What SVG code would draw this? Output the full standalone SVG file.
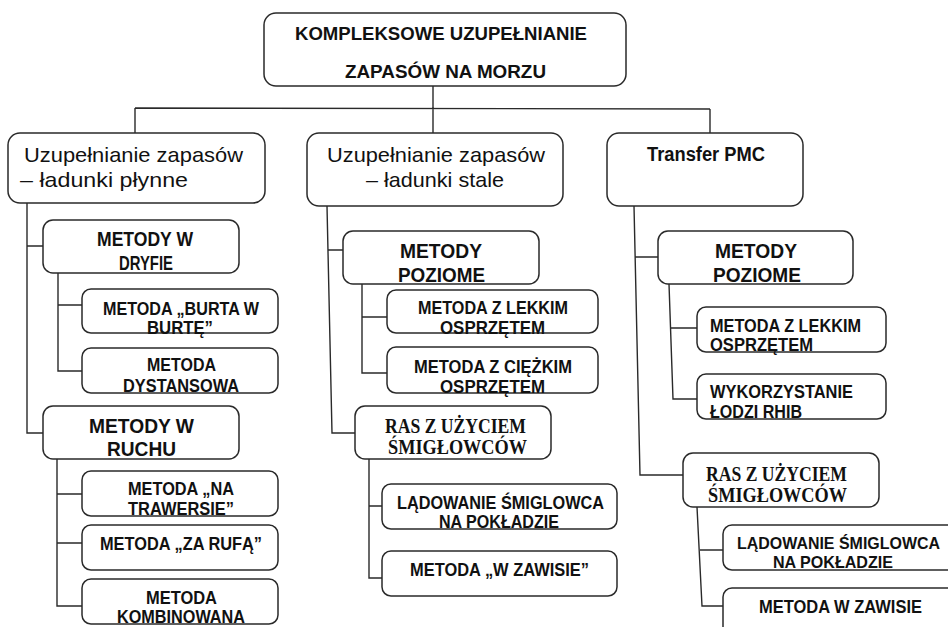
<svg xmlns="http://www.w3.org/2000/svg" width="948" height="627" viewBox="0 0 948 627">
<style>
.box{fill:#fff;stroke:#2a2a2a;stroke-width:1.5}
.ln{fill:none;stroke:#2a2a2a;stroke-width:1.4}
text{fill:#111;font-family:"Liberation Sans",Arial,sans-serif}
.t0{font-size:19px;font-weight:bold}
.h{font-size:21px}
.b2{font-size:19.5px;font-weight:bold}
.b3{font-size:18.5px;font-weight:bold}
.b4{font-size:17px;font-weight:bold}
.s{font-family:"Liberation Serif","Times New Roman",serif;font-size:20px;font-weight:bold}
</style>
<rect width="948" height="627" fill="#fff"/>
<g id="connectors">
<path class="ln" d="M433 86V108M135 108L710 109M135 108V133M433 108V133M710 109V133"/>
<path class="ln" d="M27 203V433H43M27 246H43"/>
<path class="ln" d="M58 273V371H82M58 305H82"/>
<path class="ln" d="M57 459V606H82M57 494H82M57 543H82"/>
<path class="ln" d="M327 206L332 433H355M328 250H343"/>
<path class="ln" d="M362 284V373H387M362 317H387"/>
<path class="ln" d="M369 459V578H382M369 506H382"/>
<path class="ln" d="M634 206L640 475H683M635 257H658"/>
<path class="ln" d="M669 284L673 399H697M671 328H697"/>
<path class="ln" d="M697 507L702 606H723M700 550H723"/>
</g>
<g id="root">
<rect class="box" x="264" y="13" width="362" height="73" rx="12"/>
<text class="t0" x="295" y="40" textLength="292" lengthAdjust="spacingAndGlyphs">KOMPLEKSOWE UZUPEŁNIANIE</text>
<text class="t0" x="345" y="78" textLength="201" lengthAdjust="spacingAndGlyphs">ZAPASÓW NA MORZU</text>
</g>
<g id="col1">
<rect class="box" x="8" y="133" width="257" height="70" rx="12"/>
<text class="h" x="24" y="162" textLength="219" lengthAdjust="spacingAndGlyphs">Uzupełnianie zapasów</text>
<text class="h" x="20" y="187" textLength="168" lengthAdjust="spacingAndGlyphs">– ładunki płynne</text>
</g>
<g id="dryf">
<rect class="box" x="43" y="220" width="196" height="53" rx="10"/>
<text class="b2" x="97" y="246" textLength="96" lengthAdjust="spacingAndGlyphs">METODY W</text>
<text class="b2" x="119" y="270" textLength="54" lengthAdjust="spacingAndGlyphs">DRYFIE</text>
</g>
<g id="burta">
<rect class="box" x="82" y="289" width="196" height="44" rx="9"/>
<text class="b3" x="103" y="315" textLength="156" lengthAdjust="spacingAndGlyphs">METODA „BURTA W</text>
<text class="b3" x="147" y="334" textLength="66" lengthAdjust="spacingAndGlyphs">BURTĘ”</text>
</g>
<g id="dystans">
<rect class="box" x="82" y="348" width="196" height="45" rx="9"/>
<text class="b3" x="147" y="371" textLength="69" lengthAdjust="spacingAndGlyphs">METODA</text>
<text class="b3" x="123" y="392" textLength="116" lengthAdjust="spacingAndGlyphs">DYSTANSOWA</text>
</g>
<g id="ruch">
<rect class="box" x="43" y="406" width="196" height="53" rx="10"/>
<text class="b2" x="89" y="433" textLength="105" lengthAdjust="spacingAndGlyphs">METODY W</text>
<text class="b2" x="107" y="456" textLength="69" lengthAdjust="spacingAndGlyphs">RUCHU</text>
</g>
<g id="trawers">
<rect class="box" x="82" y="471" width="196" height="45" rx="9"/>
<text class="b3" x="128" y="495" textLength="106" lengthAdjust="spacingAndGlyphs">METODA „NA</text>
<text class="b3" x="128" y="515" textLength="106" lengthAdjust="spacingAndGlyphs">TRAWERSIE”</text>
</g>
<g id="rufa">
<rect class="box" x="82" y="525" width="196" height="45" rx="9"/>
<text class="b3" x="100" y="550" textLength="162" lengthAdjust="spacingAndGlyphs">METODA „ZA RUFĄ”</text>
</g>
<g id="kombi">
<rect class="box" x="82" y="579" width="196" height="45" rx="9"/>
<text class="b3" x="146" y="604" textLength="71" lengthAdjust="spacingAndGlyphs">METODA</text>
<text class="b3" x="117" y="623" textLength="128" lengthAdjust="spacingAndGlyphs">KOMBINOWANA</text>
</g>
<g id="col2">
<rect class="box" x="307" y="133" width="256" height="73" rx="12"/>
<text class="h" x="327" y="162" textLength="218" lengthAdjust="spacingAndGlyphs">Uzupełnianie zapasów</text>
<text class="h" x="366" y="187" textLength="138" lengthAdjust="spacingAndGlyphs">– ładunki stale</text>
</g>
<g id="poz2">
<rect class="box" x="343" y="231" width="196" height="53" rx="10"/>
<text class="b2" x="400" y="258" textLength="82" lengthAdjust="spacingAndGlyphs">METODY</text>
<text class="b2" x="398" y="282" textLength="87" lengthAdjust="spacingAndGlyphs">POZIOME</text>
</g>
<g id="lekki2">
<rect class="box" x="387" y="290" width="211" height="43" rx="9"/>
<text class="b3" x="418" y="314" textLength="150" lengthAdjust="spacingAndGlyphs">METODA Z LEKKIM</text>
<text class="b3" x="440" y="334" textLength="105" lengthAdjust="spacingAndGlyphs">OSPRZĘTEM</text>
</g>
<g id="ciezki2">
<rect class="box" x="387" y="347" width="211" height="46" rx="9"/>
<text class="b3" x="414" y="373" textLength="158" lengthAdjust="spacingAndGlyphs">METODA Z CIĘŻKIM</text>
<text class="b3" x="440" y="393" textLength="105" lengthAdjust="spacingAndGlyphs">OSPRZĘTEM</text>
</g>
<g id="ras2">
<rect class="box" x="355" y="406" width="196" height="53" rx="10"/>
<text class="s" x="385" y="433" textLength="141" lengthAdjust="spacingAndGlyphs">RAS Z UŻYCIEM</text>
<text class="s" x="388" y="454" textLength="139" lengthAdjust="spacingAndGlyphs">ŚMIGŁOWCÓW</text>
</g>
<g id="lad2">
<rect class="box" x="382" y="484" width="235" height="45" rx="9"/>
<text class="b3" x="397" y="509" textLength="207" lengthAdjust="spacingAndGlyphs">LĄDOWANIE ŚMIGLOWCA</text>
<text class="b3" x="439" y="528" textLength="120" lengthAdjust="spacingAndGlyphs">NA POKŁADZIE</text>
</g>
<g id="zaw2">
<rect class="box" x="382" y="551" width="235" height="45" rx="9"/>
<text class="b3" x="410" y="576" textLength="179" lengthAdjust="spacingAndGlyphs">METODA „W ZAWISIE”</text>
</g>
<g id="col3">
<rect class="box" x="607" y="133" width="196" height="73" rx="12"/>
<text class="b2" x="647" y="161" textLength="118" lengthAdjust="spacingAndGlyphs">Transfer PMC</text>
</g>
<g id="poz3">
<rect class="box" x="658" y="231" width="195" height="53" rx="10"/>
<text class="b2" x="715" y="258" textLength="82" lengthAdjust="spacingAndGlyphs">METODY</text>
<text class="b2" x="713" y="282" textLength="88" lengthAdjust="spacingAndGlyphs">POZIOME</text>
</g>
<g id="lekki3">
<rect class="box" x="697" y="307" width="189" height="45" rx="9"/>
<text class="b3" x="710" y="332" textLength="151" lengthAdjust="spacingAndGlyphs">METODA Z LEKKIM</text>
<text class="b3" x="710" y="351" textLength="103" lengthAdjust="spacingAndGlyphs">OSPRZĘTEM</text>
</g>
<g id="rhib3">
<rect class="box" x="697" y="374" width="189" height="45" rx="9"/>
<text class="b3" x="710" y="398" textLength="143" lengthAdjust="spacingAndGlyphs">WYKORZYSTANIE</text>
<text class="b3" x="710" y="418" textLength="92" lengthAdjust="spacingAndGlyphs">ŁODZI RHIB</text>
</g>
<g id="ras3">
<rect class="box" x="683" y="453" width="196" height="54" rx="10"/>
<text class="s" x="706" y="481" textLength="141" lengthAdjust="spacingAndGlyphs">RAS Z UŻYCIEM</text>
<text class="s" x="708" y="502" textLength="139" lengthAdjust="spacingAndGlyphs">ŚMIGŁOWCÓW</text>
</g>
<g id="lad3">
<rect class="box" x="723" y="525" width="250" height="45" rx="9"/>
<text class="b4" x="737" y="549" textLength="203" lengthAdjust="spacingAndGlyphs">LĄDOWANIE ŚMIGLOWCA</text>
<text class="b4" x="773" y="568" textLength="120" lengthAdjust="spacingAndGlyphs">NA POKŁADZIE</text>
</g>
<g id="zaw3">
<rect class="box" x="723" y="588" width="250" height="60" rx="9"/>
<text class="b3" x="759" y="613" textLength="163" lengthAdjust="spacingAndGlyphs">METODA W ZAWISIE</text>
</g>
</svg>
